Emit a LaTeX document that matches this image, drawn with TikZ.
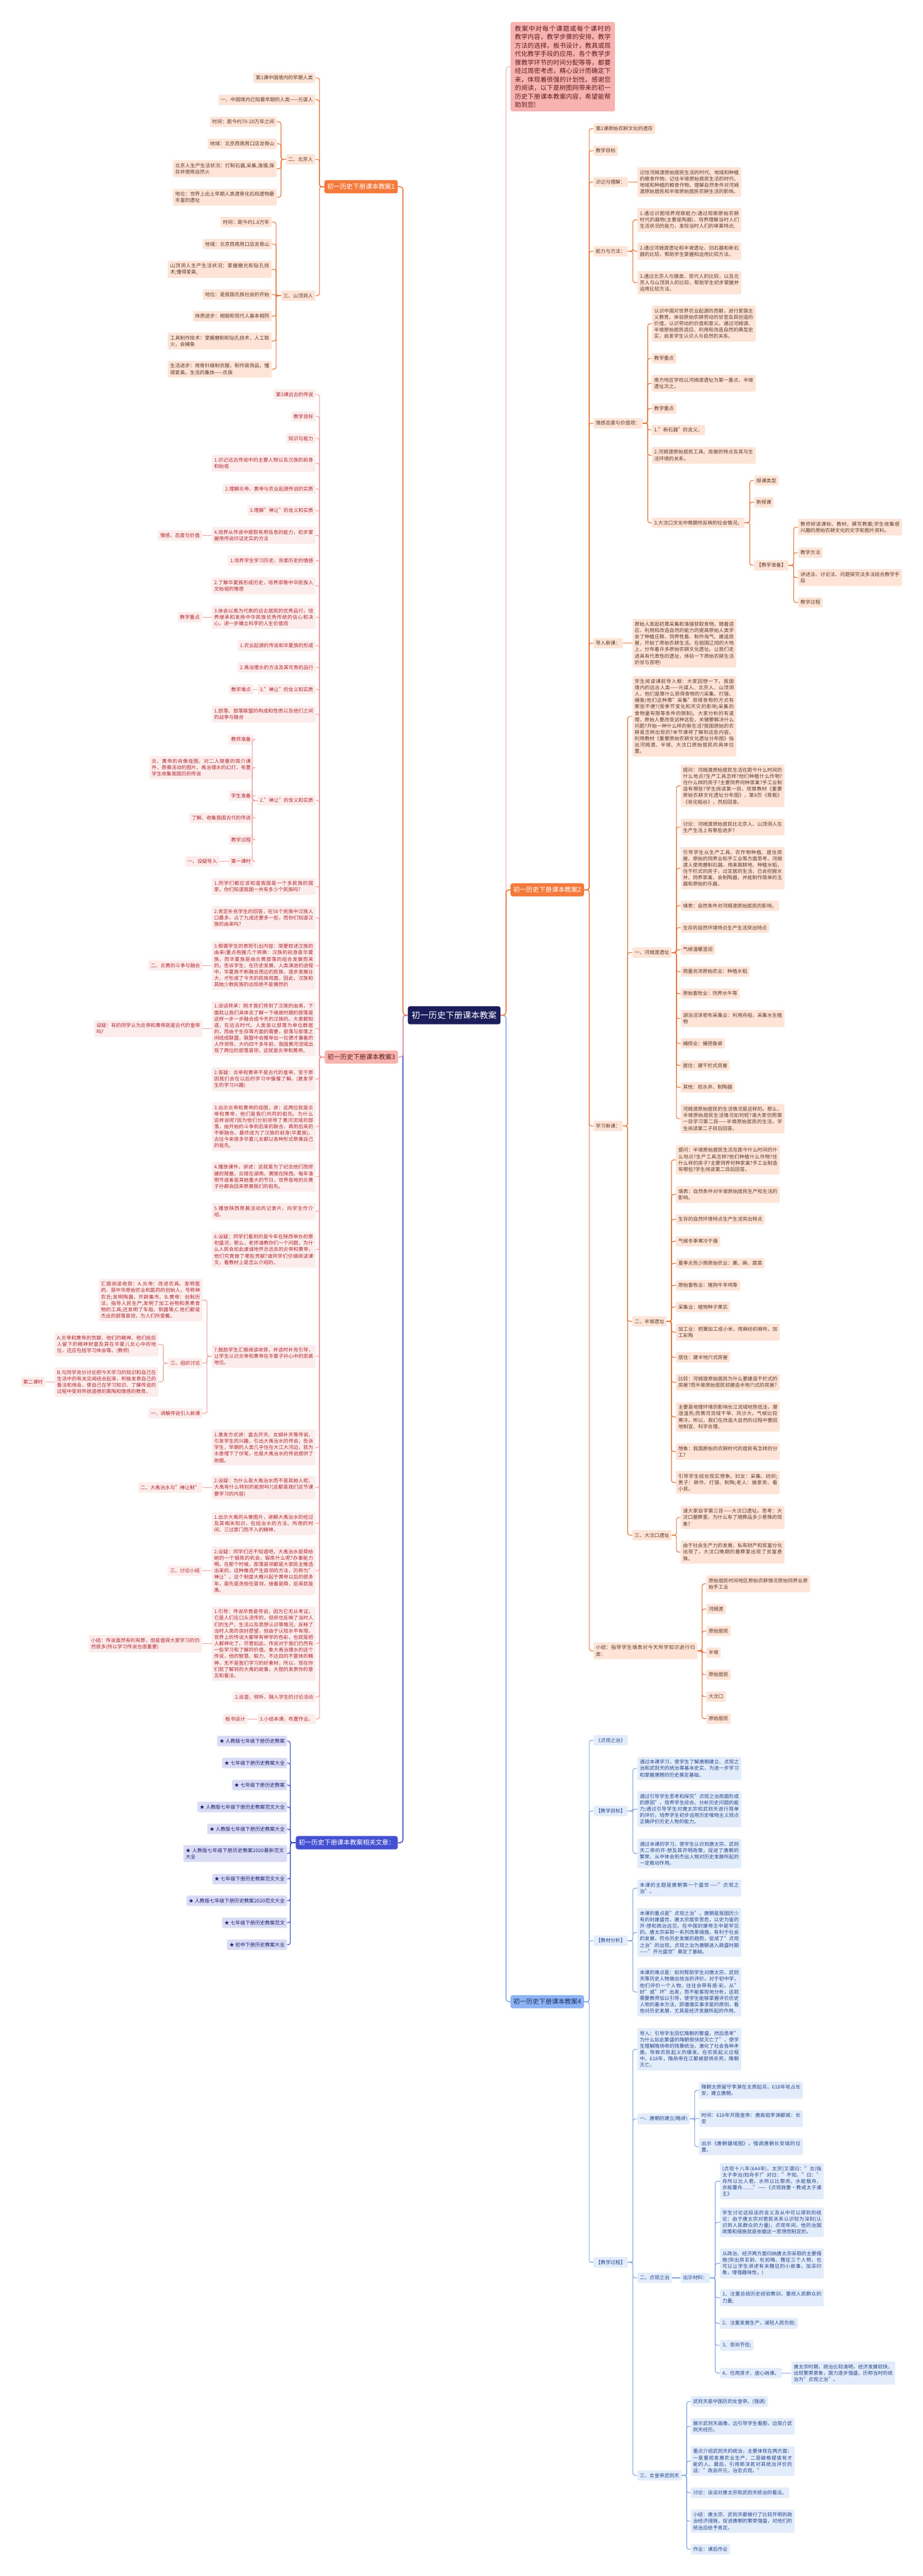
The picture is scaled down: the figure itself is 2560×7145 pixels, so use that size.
\documentclass[tikz,border=0pt]{standalone}
\usepackage{fontspec}
\setmainfont{Noto Sans CJK SC}
\XeTeXlinebreaklocale "zh"
\XeTeXlinebreakskip=0pt plus 2pt
\tolerance=9999
\definecolor{orgfill}{HTML}{F47A3C}
\definecolor{orgline}{HTML}{E9773A}
\definecolor{orglite}{HTML}{FDE4D7}
\definecolor{orgtext}{HTML}{5E3A28}
\definecolor{pnkfill}{HTML}{F8B3AF}
\definecolor{pnkline}{HTML}{EDA0A0}
\definecolor{pnklite}{HTML}{FDECEC}
\definecolor{pnktext}{HTML}{B0282E}
\definecolor{pnkdark}{HTML}{5A1E1E}
\definecolor{blufill}{HTML}{8DB3F4}
\definecolor{bluline}{HTML}{85A9E3}
\definecolor{blulite}{HTML}{E3ECFB}
\definecolor{blutext}{HTML}{25468A}
\definecolor{bludark}{HTML}{17305F}
\definecolor{navfill}{HTML}{4551D3}
\definecolor{navline}{HTML}{3C47C6}
\definecolor{navlite}{HTML}{DADCF6}
\definecolor{navtext}{HTML}{1D2270}
\definecolor{ctrfill}{HTML}{1B1E5A}
\definecolor{introfill}{HTML}{F8B2B0}
\definecolor{introline}{HTML}{F0A4A4}
\tikzset{
  leaf/.style={rounded corners=2pt, inner xsep=3.25pt, inner ysep=4pt,
    align=left, font=\fontsize{6.85}{8.85}\selectfont},
  wide/.style={text width=137.5pt, align=justify},
  lo/.style={leaf, fill=orglite, text=orgtext, anchor=east},
  ro/.style={leaf, fill=orglite, text=orgtext, anchor=west},
  lp/.style={leaf, fill=pnklite, text=pnktext, anchor=east},
  rb/.style={leaf, fill=blulite, text=blutext, anchor=west},
  ln/.style={leaf, fill=navlite, text=navtext, anchor=east},
  topic/.style={rounded corners=3pt, inner xsep=4pt, inner ysep=5pt,
    font=\fontsize{8.9}{11}\selectfont},
  co/.style={draw=orgline, line width=1pt, rounded corners=3pt},
  cp/.style={draw=pnkline, line width=1pt, rounded corners=3pt},
  cb/.style={draw=bluline, line width=1pt, rounded corners=3pt},
  cn/.style={draw=navline, line width=1pt, rounded corners=3pt},
  mainline/.style={line width=1.3pt, rounded corners=4pt}
}
\begin{document}
\begin{tikzpicture}[x=0.5pt,y=-0.5pt]
\fill[white] (0,0) rectangle (2560,7145);
\useasboundingbox (0,0) rectangle (2560,7145);

% centre
\node[fill=ctrfill, text=white, rounded corners=3pt, inner xsep=5.25pt, inner ysep=7pt,
  font=\fontsize{11.8}{14}\selectfont] (ctr) at (1260,2816) {初一历史下册课本教案};

% right: intro text
\node[fill=introfill, text=pnkdark, rounded corners=3pt, anchor=west, text width=133pt,
  align=justify, inner xsep=6pt, inner ysep=4.8pt, font=\fontsize{8.8}{11.8}\selectfont]
  (intro) at (1416,185) {教案中对每个课题或每个课时的教学内容，教学步骤的安排，教学方法的选择，板书设计，教具或现代化教学手段的应用，各个教学步骤教学环节的时间分配等等，都要经过周密考虑，精心设计而确定下来，体现着很强的计划性。感谢您的阅读，以下是树图网带来的初一历史下册课本教案内容，希望能帮助到您!};

% left: lesson 1
\node[topic, fill=orgfill, text=white, anchor=east] (b1) at (1104,518) {初一历史下册课本教案1};
\node[lo] (b1a) at (875,216) {第1课中国境内的早期人类};
\node[lo] (b1b) at (875,277) {一、中国境内已知最早期的人类——元谋人};
\node[lo] (b1c) at (875,442) {二、北京人};
\node[lo] (b1c1) at (768,338) {时间：距今约70-20万年之间};
\node[lo] (b1c2) at (768,399) {地域：北京西南周口店龙骨山};
\node[lo, wide] (b1c3) at (768,468) {北京人生产生活状况：打制石器,采集,渔猎,保存并使用自然火};
\node[lo, wide] (b1c4) at (768,547) {地位：世界上出土早期人类遗骨化石和遗物最丰富的遗址};
\node[lo] (b1d) at (875,820) {三、山顶洞人};
\node[lo] (b1d1) at (754,616) {时间：距今约1.8万年};
\node[lo] (b1d2) at (754,677) {地域：北京西南周口店龙骨山};
\node[lo, wide] (b1d3) at (754,747) {山顶洞人生产生活状况：掌握磨光和钻孔技术;懂得爱美,};
\node[lo] (b1d4) at (754,817) {地位：是我国氏族社会的开始};
\node[lo] (b1d5) at (754,877) {体质进步：相貌和现代人基本相同};
\node[lo, wide] (b1d6) at (754,946) {工具制作技术：掌握磨制和钻孔技术，人工取火，会捕鱼};
\node[lo, wide] (b1d7) at (754,1024) {生活进步：用骨针缝制衣服，制作装饰品，懂得爱美。生活的集体——氏族};

\foreach \c in {b1a,b1b,b1c,b1d} \draw[co] (b1.west) -- ++(-13,0) |- (\c.east);
\foreach \c in {b1c1,b1c2,b1c3,b1c4} \draw[co] (b1c.west) -- ++(-13,0) |- (\c.east);
\foreach \c in {b1d1,b1d2,b1d3,b1d4,b1d5,b1d6,b1d7} \draw[co] (b1d.west) -- ++(-13,0) |- (\c.east);

% left: lesson 3
\node[topic, fill=pnkfill, text=pnkdark, anchor=east] (b3) at (1105,2932) {初一历史下册课本教案3};
\node[lp] (p1) at (876,1094) {第3课远古的传说};
\node[lp] (p2) at (876,1155) {教学目标};
\node[lp] (p3) at (876,1216) {知识与能力};
\node[lp, wide] (p4) at (876,1285) {1.识记远古传说中的主要人物以及汉族的前身和始祖};
\node[lp] (p5) at (876,1356) {2.理解炎帝、黄帝与农业起源传说的实质};
\node[lp] (p6) at (876,1416) {3.理解"禅让"的含义和实质};
\node[lp, wide] (p7) at (876,1485) {4.培养从传说中提取有用信息的能力，初步掌握用传说印证史实的方法};
\node[lp] (p7a) at (561,1485) {情感、态度与价值};
\node[lp] (p8) at (876,1555) {1.培养学生学习历史、热爱历史的情感};
\node[lp, wide] (p9) at (876,1625) {2.了解华夏族形成历史，培养崇敬中华民族人文始祖的情感};
\node[lp, wide] (p10) at (876,1712) {3.体会以禹为代表的远古居民的优秀品行，培养继承和发扬中华民族优秀传统的信心和决心，进一步确立科学的人生价值观};
\node[lp] (p10a) at (561,1712) {教学重点};
\node[lp] (p11) at (876,1791) {1.农业起源的传说和华夏族的形成};
\node[lp] (p12) at (876,1851) {2.禹治理水的方法及其可贵的品行};
\node[lp] (p13) at (876,1912) {3."禅让"的含义和实质};
\node[lp] (p13a) at (703,1912) {教学难点};
\node[lp, wide] (p14) at (876,1981) {1.部落、部落联盟的构成和性质以及他们之间的战争与融合};
\node[lp] (p15) at (876,2220) {2."禅让"的含义和实质};
\node[lp] (p15a) at (703,2051) {教师准备};
\node[lp, wide] (p15b) at (703,2129) {炎、黄帝的肖像挂图、对二人陵墓的简介课件、祭奠活动的图片、禹治理水的幻灯、布置学生收集我国历的传说};
\node[lp] (p15c) at (703,2207) {学生准备};
\node[lp] (p15d) at (703,2269) {了解、收集我国古代的传说};
\node[lp] (p15e) at (703,2329) {教学过程};
\node[lp] (p15f) at (703,2389) {第一课时};
\node[lp] (p15g) at (609,2389) {一、设疑导入};
\node[lp, wide] (p16) at (876,2459) {1.同学们都应该知道我国是一个多民族的国家，你们知道我国一共有多少个民族吗?};
\node[lp, wide] (p17) at (876,2546) {2.肯定补充学生的回答，在56个民族中汉族人口最多，占了九成还要多一些，而你们知道汉族的由来吗?};
\node[lp, wide] (p18) at (876,2678) {3.根据学生的表现引出内容：简要叙述汉族的由来(重点抱握几个转换：汉族的前身是华夏族，而华夏族是由炎黄部落的组合发展而来的。告诉学生，在历史发展、人类演进的进程中，华夏族不断融合周边的民族，逐步发展壮大，才形成了今天的民族局面，因此，汉族和其她少数民族的出现绝不是偶然的};
\node[lp] (p18a) at (562,2678) {二、炎黄的斗争与融合};
\node[lp, wide] (p19) at (876,2853) {1.谈话转承：刚才我们将到了汉族的由来，下面就让我们具体去了解一下缘故时期的部落是这样一步一步融合成今天的汉族的。大家都知道，在远古时代，人类是以部落为单位群居的，而由于生存等方面的需要，部落与部落之间结成联盟，联盟中会推举出一位德才兼备的人作领导。大约四千多年前，我国黄河流域出现了两位的部落首领，这就是炎帝和黄帝。};
\node[lp] (p19a) at (562,2853) {设疑：有的同学认为炎帝和黄帝就是古代的皇帝\\吗?};
\node[lp, wide] (p20) at (876,2993) {2.答疑：炎帝和黄帝不是古代的皇帝，至于原因我们会在以后的学习中慢慢了解。(激发学生的学习兴趣)};
\node[lp, wide] (p21) at (876,3125) {3.出示炎帝和黄帝的挂图，讲：这两位就是炎帝和黄帝，他们是我们共同的祖先。为什么这样说呢?因为他们分别领导了黄河流域的部落，由开始的斗争到后来的联合，再到后来的不断融合。最终成为了汉族的前身(华夏族)。古往今来很多华夏儿女都以各种形式祭奠自己的祖先。};
\node[lp, wide] (p22) at (876,3264) {4.播放课件，讲述：这就是为了纪念他们而修建的陵墓。炎陵在湖南，黄陵在陕西。每年清明节或者是其她重大的节日，世界各地的炎黄子孙都会回来祭奠我们的祖先。};
\node[lp, wide] (p23) at (876,3360) {5.播放陕西祭奠活动的记录片，向学生作介绍。};
\node[lp, wide] (p24) at (876,3466) {6.设疑：同学们看到的是今年在陕西举办的祭祀盛况，那么，老师请教你们一个问题，为什么人民会如此虔诚地怀念远去的炎帝和黄帝，他们究竟做了哪些贡献?请同学们仔细阅读课文，看教材上是怎么介绍的。};
\node[lp, wide] (p25) at (876,3762) {7.鼓励学生汇报阅读收获，并适时补充引导，让学生认识炎帝和黄帝在华夏子孙心中的崇高地位。};
\node[lp, wide] (p25a) at (562,3606) {汇报阅读收获：A.炎帝：改进农具、发明医药、是中华原始农业和医药的创始人，号称神农氏;发明陶器，开辟集市。B.黄帝：创制历法，指导人民生产;发明了加工谷物和蒸煮食物的工具;还发明了车船、铜器等;C.他们都是杰出的部落首领，为人们所爱戴。};
\node[lp] (p25b) at (562,3781) {三、组织讨论};
\node[lp, wide] (p25b1) at (440,3729) {A.炎帝和黄帝的贡献、他们的精神、他们给后人留下的精神财富及其在华夏儿女心中的地位，还应包括学习体会等。(教师)};
\node[lp, wide] (p25b2) at (440,3833) {B.与同学充分讨论把今天学习的知识和自己在生活中的有关见闻结合起来，积极发表自己的看法和体会，使自己在学习知识、了解传说的过程中受到传统道德的熏陶和情感的教育。};
\node[lp] (p25b3) at (126,3833) {第二课时};
\node[lp] (p25c) at (562,3920) {一、讲解传说引入新课};
\node[lp, wide] (p26) at (876,4015) {1.激发方式讲：盘古开天、女娲补天等传说，引发学生的兴趣，引出大禹治水的传说，告诉学生，早期的人类几乎住在大江大河边，就为水患埋下了伏笔，也是大禹治水的传说提供了依据。};
\node[lp, wide] (p27) at (876,4126) {2.设疑：为什么是大禹治水而不是其她人呢，大禹有什么特别的能耐吗?(这都是我们这节课要学习的内容)};
\node[lp] (p27a) at (561,4126) {二、大禹治水与"禅让制"};
\node[lp, wide] (p28) at (876,4226) {1.出示大禹的头像图片，讲解大禹治水的经过及其相关知识，包括治水的方法、所用的时间、三过家门而不入的精神。};
\node[lp, wide] (p29) at (876,4357) {2.设疑：同学们还不知道吧，大禹治水是舜给她的一个锻炼的机会，锻炼什么呢?办事能力啊。在那个时候，部落首领都是大家民主推选出来的，这种推选产生首领的方法，历称为"禅让"。这个制度大概兴起于黄帝以后的很多年，首先是尧担任首领，接着是舜，后来就是禹。};
\node[lp] (p29a) at (561,4357) {三、讨论小结};
\node[lp, wide] (p30) at (876,4559) {1.引导：传说毕竟是传说，因为它无从考证，它是人们在口头流传的，但却也反映了当时人们的生产、生活以及思想认识等情况，反映了当时人类的良好愿望，但由于认知水平有限，世界上的传说大都带有神学的色彩，也就是把人都神化了。尽管如此，传说对于我们仍然有一些学习和了解的价值。象大禹治理水的这个传说，他的智慧、毅力、不达目的不罢休的精神，无不是我们学习的好素材，所以，现在你们就了解到的大禹的故事，大胆的发表你的意见和看法。};
\node[lp] (p30a) at (561,4559) {小结：传说虽然有利有弊，但是值得大家学习的仍\\然很多(所以学习传说也很重要)};
\node[lp] (p31) at (876,4707) {2.巡查、倾听、融入学生的讨论活动};
\node[lp] (p32) at (876,4768) {3.小结本课，布置作业。};
\node[lp] (p32a) at (687,4768) {板书设计};

\foreach \c in {p1,p2,p3,p4,p5,p6,p7,p8,p9,p10,p11,p12,p13,p14,p15,p16,p17,p18,p19,p20,
  p21,p22,p23,p24,p25,p26,p27,p28,p29,p30,p31,p32}
  \draw[cp] (b3.west) -- ++(-14,0) |- (\c.east);
\foreach \p/\c in {p7/p7a,p10/p10a,p13/p13a,p15f/p15g,p18/p18a,p19/p19a,p27/p27a,p29/p29a,
  p30/p30a,p32/p32a,p25b2/p25b3}
  \draw[cp] (\p.west) -- (\c.east);
\foreach \c in {p15a,p15b,p15c,p15d,p15e,p15f} \draw[cp] (p15.west) -- ++(-14,0) |- (\c.east);
\foreach \c in {p25a,p25b,p25c} \draw[cp] (p25.west) -- ++(-13,0) |- (\c.east);
\foreach \c in {p25b1,p25b2} \draw[cp] (p25b.west) -- ++(-13,0) |- (\c.east);

% left: related articles
\node[topic, fill=navfill, text=white, anchor=east] (b5) at (1104,5111) {初一历史下册课本教案相关文章：};
\node[ln] (n1) at (797,4829) {★ 人教版七年级下册历史教案};
\node[ln] (n2) at (797,4890) {★ 七年级下册历史教案大全};
\node[ln] (n3) at (797,4951) {★ 七年级下册历史教案};
\node[ln] (n4) at (797,5012) {★ 人教版七年级下册历史教案范文大全};
\node[ln] (n5) at (797,5073) {★ 人教版七年级下册历史教案大全};
\node[ln, wide, align=left] (n6) at (797,5141) {★ 人教版七年级下册历史教案2020最新范文大全};
\node[ln] (n7) at (797,5212) {★ 七年级下册历史教案范文大全};
\node[ln] (n8) at (797,5272) {★ 人教版七年级下册历史教案2020范文大全};
\node[ln] (n9) at (797,5333) {★ 七年级下册历史教案范文};
\node[ln] (n10) at (797,5394) {★ 初中下册历史教案大全};
\foreach \c in {n1,n2,n3,n4,n5,n6,n7,n8,n9,n10} \draw[cn] (b5.west) -- ++(-15,0) |- (\c.east);

% right: lesson 2
\node[topic, fill=orgfill, text=white, anchor=west] (b2) at (1416,2468) {初一历史下册课本教案2};
\node[ro] (o1) at (1646,357) {第2课原始农耕文化的遗存};
\node[ro] (o2) at (1646,418) {教学目标};
\node[ro] (o3) at (1646,505) {识记与理解：};
\node[ro, wide] (o3a) at (1768,505) {记住河姆渡原始居民生活的时代、地域和种植的粮食作物，记住半坡原始居民生活的时代、地域和种植的粮食作物。理解自然条件对河姆渡原始居民和半坡原始居民农耕生活的影响。};
\node[ro] (o4) at (1646,697) {能力与方法：};
\node[ro, wide] (o4a) at (1768,610) {1.通过识图培养观察能力:通过观察原始农耕时代的器物(主要是陶器)，培养理解当时人们生活状况的能力，发现当时人们的审美特点;};
\node[ro, wide] (o4b) at (1768,697) {2.通过河姆渡遗址和半坡遗址、旧石器和新石器的比较，帮助学生掌握和运用比较方法。};
\node[ro, wide] (o4c) at (1768,784) {3.通过北京人与猿类、现代人的比较，以及北京人与山顶洞人的比较，帮助学生初步掌握并运用比较方法。};
\node[ro] (o5) at (1646,1174) {情感态度与价值观：};
\node[ro, wide] (o5a) at (1808,898) {认识中国对世界农业起源的贡献，进行爱国主义教育。体验原始农耕劳动的甘苦及其创造的价值，认识劳动的价值和意义。通过河姆渡、半坡原始居民适应、利用和改造自然的典型史实，启发学生认识人与自然的关系。};
\node[ro] (o5b) at (1808,994) {教学重点};
\node[ro, wide] (o5c) at (1808,1063) {南方地区学校以河姆渡遗址为第一重点，半坡遗址次之。};
\node[ro] (o5d) at (1808,1133) {教学重点};
\node[ro] (o5e) at (1808,1193) {1."新石器"的含义。};
\node[ro, wide] (o5f) at (1808,1263) {2.河姆渡原始居民工具、房屋的特点及其与生活环境的关系。};
\node[ro] (o5g) at (1808,1450) {3.大汶口文化中晚期所反映的社会情况。};
\node[ro] (o5g1) at (2092,1333) {授课类型};
\node[ro] (o5g2) at (2092,1393) {新授课};
\node[ro] (o5g3) at (2092,1568) {【教学准备】};
\node[ro, wide] (q1) at (2214,1462) {教师研读课标、教材，撰写教案;学生收集感兴趣的原始农耕文化的文字和图片资料。};
\node[ro] (q2) at (2214,1533) {教学方法};
\node[ro, wide] (q3) at (2214,1602) {讲述法、讨论法、问题探究法多法结合教学手段};
\node[ro] (q4) at (2214,1671) {教学过程};
\node[ro] (o6) at (1646,1784) {导入新课：};
\node[ro, wide] (o6a) at (1754,1784) {原始人类起初靠采集和渔猎获取食物。随着适应、利用和改造自然的能力的提高原始人类学会了种植庄稼、饲养牲畜、制作淘气、建造房屋，开始了原始农耕生活。在祖国辽阔的大地上，分布着许多原始农耕文化遗址。让我们走进具有代表性的遗址，体验一下原始农耕生活的甘与苦吧!};
\node[ro] (o7) at (1646,3123) {学习新课：};
\node[ro, wide] (o7a) at (1754,1987) {学生阅读课前导入框：大家回想一下，我国境内的远古人类——元谋人、北京人、山顶洞人，他们是靠什么获得食物的?(采集、打猎、捕鱼)他们这种靠"采集"获得食物的方式有哪些不便?(受季节变化和天灾的影响;采集的食物量有限等条件的限制)。大家分析的有道理，原始人要改变这种这些，关键要解决什么问题?开始一种什么样的新生活?我国原始的农耕是怎样出现的?本节课将了解到这些内容。利用教材《重要原始农耕文化遗址分布图》指出河姆渡、半坡、大汶口原始居民的具体位置。};
\node[ro] (o7b) at (1754,2642) {一、河姆渡遗址};
\node[ro, wide] (h1) at (1888,2180) {提问：河姆渡原始居民生活在距今什么时间的什么地点?生产工具怎样?他们种植什么作物?住什么样的房子?主要饲养何种家禽?手工业制造有哪些?学生阅读第一目，观察教材《重要原始农耕文化遗址分布图》，第8页《骨耜》《炭化稻谷》，然后回答。};
\node[ro, wide] (h2) at (1888,2294) {讨论：河姆渡原始居民比北京人、山顶洞人在生产生活上有哪些进步?};
\node[ro, wide] (h3) at (1888,2408) {引导学生从生产工具、农作物种植、居住房屋、原始的饲养业和手工业等方面思考。河姆渡人使用磨制石器，用耒耜耕地、种植水稻，住干栏式的房子，过定居的生活，已会挖掘水井、饲养家禽、会制陶器，并能制作简单的玉器和原始的乐器。};
\node[ro] (h4) at (1888,2512) {填表：自然条件对河姆渡原始居民的影响。};
\node[ro] (h5) at (1888,2573) {生存的自然环境特点生产生活突出特点};
\node[ro] (h6) at (1888,2634) {气候温暖湿润};
\node[ro] (h7) at (1888,2695) {雨量充沛原始农业：种植水稻};
\node[ro] (h8) at (1888,2756) {原始畜牧业：饲养水牛等};
\node[ro, wide] (h9) at (1888,2825) {湖泊沼泽密布采集业：利用舟船，采集水生植物};
\node[ro] (h10) at (1888,2894) {捕捞业：捕捞鱼蚌};
\node[ro] (h11) at (1888,2955) {居住：建干栏式房屋};
\node[ro] (h12) at (1888,3016) {其他：挖水井、制陶器};
\node[ro, wide] (h13) at (1888,3103) {河姆渡原始居民的生活情况是这样的。那么，半坡原始居民生活情况如何呢?请大家仿照第一目学习第二目——半坡原始居民的生活。学生阅读第二子目后回答。};
\node[ro] (o7c) at (1754,3665) {二、半坡遗址};
\node[ro, wide] (s1) at (1875,3217) {提问：半坡原始居民生活在距今什么时间的什么地点?生产工具怎样?他们种植什么作物?住什么样的房子?主要饲养何种家禽?手工业制造有哪些?学生阅读第二目后回答。};
\node[ro, wide] (s2) at (1875,3313) {填表：自然条件对半坡原始居民生产和生活的影响。};
\node[ro] (s3) at (1875,3382) {生存的自然环境特点生产生活突出特点};
\node[ro] (s4) at (1875,3443) {气候冬季寒冷干燥};
\node[ro] (s5) at (1875,3504) {夏季炎热少雨原始农业：粟、麻、蔬菜};
\node[ro] (s6) at (1875,3565) {原始畜牧业：猪狗牛羊鸡等};
\node[ro] (s7) at (1875,3625) {采集业：植物种子果实};
\node[ro, wide] (s8) at (1875,3695) {加工业：把粟加工成小米，用麻纺织麻布，加工彩陶};
\node[ro] (s9) at (1875,3765) {居住：建半地穴式房屋};
\node[ro, wide] (s10) at (1875,3834) {比较：河姆渡原始居民为什么要建造干栏式的房屋?而半坡原始居民却建造半地穴式的房屋?};
\node[ro, wide] (s11) at (1875,3930) {主要是地理环境的影响长江流域地势低洼，潮湿温热;而黄河流域干旱、风沙大，气候比较寒冷。所以，我们在改造大自然的过程中要因地制宜、科学合理。};
\node[ro, wide] (s12) at (1875,4026) {想象：我国原始的农耕时代的居民有怎样的分工?};
\node[ro, wide] (s13) at (1875,4112) {引导学生结合现实想象。妇女：采集、纺织;男子：耕作、打猎、制陶;老人：做家务、看小孩。};
\node[ro] (o7d) at (1754,4258) {三、大汶口遗址};
\node[ro, wide] (d1) at (1888,4209) {请大家自学第三目——大汶口遗址。思考：大汶口墓葬里，为什么有了随葬品多少悬殊的现象?};
\node[ro, wide] (d2) at (1888,4305) {由于社会生产力的发展，私有财产和贫富分化出现了，大汶口晚期的墓葬里出现了贫富悬殊。};
\node[ro, wide] (o8) at (1646,4579) {小结：指导学生填表对今天所学知识进行归类：};
\node[ro, wide] (r1) at (1959,4393) {原始居民时间地区原始农耕情况原始饲养业原始手工业};
\node[ro] (r2) at (1959,4463) {河姆渡};
\node[ro] (r3) at (1959,4524) {原始居民};
\node[ro] (r4) at (1959,4584) {半坡};
\node[ro] (r5) at (1959,4645) {原始居民};
\node[ro] (r6) at (1959,4706) {大汶口};
\node[ro] (r7) at (1959,4767) {原始居民};

\foreach \c in {o1,o2,o3,o4,o5,o6,o7,o8} \draw[co] (b2.east) -- ++(14,0) |- (\c.west);
\foreach \p/\c in {o3/o3a,o6/o6a} \draw[co] (\p.east) -- (\c.west);
\foreach \c in {o4a,o4b,o4c} \draw[co] (o4.east) -- ++(14,0) |- (\c.west);
\foreach \c in {o5a,o5b,o5c,o5d,o5e,o5f,o5g} \draw[co] (o5.east) -- ++(14,0) |- (\c.west);
\foreach \c in {o5g1,o5g2,o5g3} \draw[co] (o5g.east) -- ++(14,0) |- (\c.west);
\foreach \c in {q1,q2,q3,q4} \draw[co] (o5g3.east) -- ++(14,0) |- (\c.west);
\foreach \c in {o7a,o7b,o7c,o7d} \draw[co] (o7.east) -- ++(13,0) |- (\c.west);
\foreach \c in {h1,h2,h3,h4,h5,h6,h7,h8,h9,h10,h11,h12,h13} \draw[co] (o7b.east) -- ++(13,0) |- (\c.west);
\foreach \c in {s1,s2,s3,s4,s5,s6,s7,s8,s9,s10,s11,s12,s13} \draw[co] (o7c.east) -- ++(13,0) |- (\c.west);
\foreach \c in {d1,d2} \draw[co] (o7d.east) -- ++(13,0) |- (\c.west);
\foreach \c in {r1,r2,r3,r4,r5,r6,r7} \draw[co] (o8.east) -- ++(13,0) |- (\c.west);

% right: lesson 4
\node[topic, fill=blufill, text=bludark, anchor=west] (b4) at (1416,5552) {初一历史下册课本教案4};
\node[rb] (u1) at (1646,4827) {《贞观之治》};
\node[rb] (u2) at (1646,5023) {【教学目标】};
\node[rb, wide] (u2a) at (1768,4905) {通过本课学习，使学生了解唐朝建立、贞观之治和武则天的统治等基本史实，为进一步学习和掌握唐朝的历史奠定基础。};
\node[rb, wide] (u2b) at (1768,5018) {通过引导学生思考和探究"贞观之治局面形成的原因"，培养学生综合、分析历史问题的能力;通过引导学生对唐太宗和武则天进行简单的评价，培养学生初步运用历史唯物主义观点正确评价历史人物的能力。};
\node[rb, wide] (u2c) at (1768,5141) {通过本课的学习，使学生认识到唐太宗、武则天二帝的开-想及其开明政策，促进了唐朝的繁荣，从中体会到杰出人物对历史发展所起的一定推动作用。};
\node[rb] (u3) at (1646,5383) {【教材分析】};
\node[rb, wide] (u3a) at (1768,5237) {本课的主题是唐朝第一个盛世——"贞观之治"。};
\node[rb, wide] (u3b) at (1768,5360) {本课的重点是"贞观之治"。唐朝是我国历少有的封建盛世。唐太宗居安思危，以史为鉴的开-想和政治远见，在中国封建帝王中是罕见的。唐太宗采取一系列改革措施，有利于社会的发展，符合历史发展的趋势，促成了"贞观之治"的出现。贞观之治为唐朝进入鼎盛时期——"开元盛世"奠定了基础。};
\node[rb, wide] (u3c) at (1768,5525) {本课的难点是：如何帮助学生对唐太宗、武则天等历史人物做出恰当的评价。对于初中学，他们评价一个人物，往往会带有感-彩，从"好"或"坏"出发，而不能客观地分析，这就需要教师加以引导，使学生能够掌握评价历史人物的基本方法，即遵循实事求是的原则，看他对历史发展，尤其是经济发展所起的作用。};
\node[rb] (u4) at (1646,6275) {【教学过程】};
\node[rb, wide] (u4a) at (1768,5684) {导入：引导学生回忆隋朝的繁盛，然后思考"为什么如此繁盛的隋朝很快就灭亡了"，使学生理解隋炀帝的残暴统治，激化了社会各种矛盾，导致农民起义的爆发。在农民起义过程中，618年，隋炀帝在江都被部将杀死，隋朝灭亡。};
\node[rb] (u4b) at (1768,5877) {一、唐朝的建立(略讲)};
\node[rb, wide] (u4b1) at (1939,5798) {隋朝太原留守李渊在太原起兵，618年攻占长安，建立唐朝。};
\node[rb, wide] (u4b2) at (1939,5876) {时间：618年开国皇帝：唐高祖李渊都城：长安};
\node[rb, wide] (u4b3) at (1939,5954) {出示《唐朝疆域图》，强调唐朝长安城的位置。};
\node[rb] (u4c) at (1768,6318) {二、贞观之治};
\node[rb] (u4c1) at (1888,6318) {出示材料：};
\node[rb, wide] (m1) at (1997,6050) {[贞观十八年(644年)，太宗]又谓曰："汝(指太子李治)知舟乎?"对曰："不知。"曰："舟所以比人君，水所以比黎庶。水能载舟，亦能覆舟……"——《贞观政要•教戒太子诸王》};
\node[rb, wide] (m2) at (1997,6164) {学生讨论这段话的含义及从中可以得到的结论：由于唐太宗对君民关系认识较为深刻(认识到人民群众的力量)，贞观年间，他的治国政策和措施就是依据这一思想而制定的。};
\node[rb, wide] (m3) at (1997,6278) {从政治、经济两方面归纳唐太宗采取的主要措施(突出房玄龄、杜如晦、魏征三个人物，也可以让学生讲述有关魏征的小故事，加深印象，增强趣味性。)};
\node[rb, wide] (m4) at (1997,6373) {1、注重总结历史经验教训，重视人民群众的力量;};
\node[rb] (m5) at (1997,6444) {2、注重发展生产，减轻人民负担;};
\node[rb] (m6) at (1997,6505) {3、崇尚节俭;};
\node[rb] (m7) at (1997,6582) {4、任用贤才、虚心纳谏。};
\node[rb, wide] (m7a) at (2195,6582) {唐太宗时期，政治比较清明，经济发展较快，出现繁荣景象，国力逐步强盛。历称当时的统治为"贞观之治"。};
\node[rb] (u4d) at (1768,6866) {三、女皇帝武则天};
\node[rb] (w1) at (1916,6661) {武则天是中国历的女皇帝。(强调)};
\node[rb, wide] (w2) at (1916,6730) {展示武则天画像，边引导学生看图，边简介武则天经历。};
\node[rb, wide] (w3) at (1916,6826) {重点介绍武则天的统治，主要体现在两方面：一是重视发展农业生产，二是破格提拔有才能的人。最后，引用郭沫若对其统治评价的话："政启开元，治宏贞观。"};
\node[rb] (w4) at (1916,6914) {讨论：谈谈对唐太宗和武则天统治的看法。};
\node[rb, wide] (w5) at (1916,6993) {小结：唐太宗、武则天都推行了比较开明的政治经济措施，促进唐朝的繁荣强盛，对他们的统治应给予肯定。};
\node[rb] (w6) at (1916,7071) {作业：课后作业};

\foreach \c in {u1,u2,u3,u4} \draw[cb] (b4.east) -- ++(14,0) |- (\c.west);
\foreach \c in {u2a,u2b,u2c} \draw[cb] (u2.east) -- ++(14,0) |- (\c.west);
\foreach \c in {u3a,u3b,u3c} \draw[cb] (u3.east) -- ++(14,0) |- (\c.west);
\foreach \c in {u4a,u4b,u4c,u4d} \draw[cb] (u4.east) -- ++(14,0) |- (\c.west);
\foreach \c in {u4b1,u4b2,u4b3} \draw[cb] (u4b.east) -- ++(13,0) |- (\c.west);
\foreach \p/\c in {u4c/u4c1,m7/m7a} \draw[cb] (\p.east) -- (\c.west);
\foreach \c in {m1,m2,m3,m4,m5,m6,m7} \draw[cb] (u4c1.east) -- ++(14,0) |- (\c.west);
\foreach \c in {w1,w2,w3,w4,w5,w6} \draw[cb] (u4d.east) -- ++(14,0) |- (\c.west);

% main trunks from the centre
\draw[mainline, navline] (ctr.west) -- ++(-13,0) |- (b5.east);
\draw[mainline, pnkline] (ctr.west) -- ++(-13,0) |- (b3.east);
\draw[mainline, orgline] (ctr.west) -- ++(-13,0) |- (b1.east);
\draw[mainline, bluline] (ctr.east) -- ++(15,0) |- (b4.west);
\draw[mainline, introline, line width=0.8pt] (ctr.east) -- ++(15,0) |- (intro.west);
\draw[mainline, orgline] (ctr.east) -- ++(15,0) |- (b2.west);
\end{tikzpicture}
\end{document}
